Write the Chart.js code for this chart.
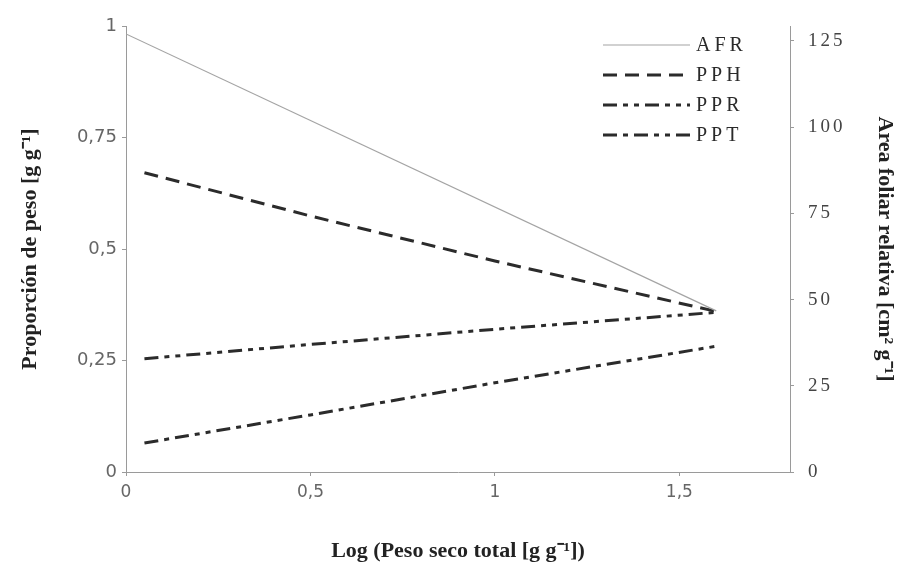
<!DOCTYPE html>
<html>
<head>
<meta charset="utf-8">
<script src="https://cdn.jsdelivr.net/npm/chart.js@4.4.1/dist/chart.umd.min.js"></script>
<style>
  html, body { margin: 0; padding: 0; background: #fff; }
</style>
</head>
<body>
<canvas id="chart" width="906" height="565"></canvas>
<script>
// values
const afrX = [0, 1.6];
const afrValues = [127, 46.7];
const seriesX = [0.05, 0.5, 1.0, 1.6];
const pphValues = [0.671, 0.574, 0.473, 0.36];
const pprValues = [0.254, 0.286, 0.32, 0.358];
const pptValues = [0.065, 0.128, 0.20, 0.282];
const xTicks = [0, 0.5, 1, 1.5];
const leftTicks = [0, 0.25, 0.5, 0.75, 1];
const rightTicks = [0, 25, 50, 75, 100, 125];

const toPoints = (xs, ys) => xs.map((x, i) => ({ x: x, y: ys[i] }));
const comma = v => String(v).replace('.', ',');
const setTicks = list => scale => { scale.ticks = list.map(v => ({ value: v })); };

const axisColor = '#9a9a9a';
const lineColor = '#2b2b2b';
const titleFont = { family: '"Liberation Serif"', size: 22, weight: 'bold' };

// legend drawn in the top right corner of the plot, like the original
const cornerLegend = {
    id: 'cornerLegend',
    afterDraw(chart) {
        const ctx = chart.ctx;
        chart.data.datasets.forEach((ds, i) => {
            const y = 45 + i * 30;
            ctx.save();
            ctx.strokeStyle = ds.borderColor;
            ctx.lineWidth = ds.borderWidth;
            ctx.setLineDash(ds.borderDash || []);
            ctx.beginPath();
            ctx.moveTo(603, y);
            ctx.lineTo(690, y);
            ctx.stroke();
            ctx.setLineDash([]);
            ctx.font = '20px "Liberation Serif"';
            ctx.letterSpacing = '4px';
            ctx.fillStyle = '#2a2a2a';
            ctx.textBaseline = 'middle';
            ctx.fillText(ds.label, 696, y + 1);
            ctx.restore();
        });
    }
};

// spaced-out digits on the right axis
const spacedRightTicks = {
    id: 'spacedRightTicks',
    beforeDraw(chart) {
        const s = chart.scales.y1;
        if (s && !s._spaced) {
            const orig = s.drawLabels;
            s.drawLabels = function (area) {
                this.ctx.save();
                this.ctx.letterSpacing = '3px';
                orig.call(this, area);
                this.ctx.restore();
            };
            s._spaced = true;
        }
    }
};

new Chart(document.getElementById('chart'), {
    type: 'line',
    data: {
        datasets: [
            {
                label: 'AFR',
                data: toPoints(afrX, afrValues),
                yAxisID: 'y1',
                borderColor: '#a4a4a4',
                borderWidth: 1.2,
                pointRadius: 0
            },
            {
                label: 'PPH',
                data: toPoints(seriesX, pphValues),
                yAxisID: 'y',
                borderColor: lineColor,
                borderWidth: 3,
                borderDash: [14, 8],
                pointRadius: 0
            },
            {
                label: 'PPR',
                data: toPoints(seriesX, pprValues),
                yAxisID: 'y',
                borderColor: lineColor,
                borderWidth: 3,
                borderDash: [14, 6, 5, 6, 5, 6],
                pointRadius: 0
            },
            {
                label: 'PPT',
                data: toPoints(seriesX, pptValues),
                yAxisID: 'y',
                borderColor: lineColor,
                borderWidth: 3,
                borderDash: [14, 6, 5, 6, 14, 6, 5, 6, 5, 6],
                pointRadius: 0
            }
        ]
    },
    options: {
        responsive: false,
        animation: false,
        layout: { padding: { top: 26, left: 0, right: 0, bottom: 0 } },
        plugins: {
            legend: { display: false },
            tooltip: { enabled: false }
        },
        scales: {
            x: {
                type: 'linear',
                min: 0,
                max: 1.8,
                afterBuildTicks: setTicks(xTicks),
                afterFit: s => { s.height = 93; },
                grid: { drawOnChartArea: false, color: axisColor, tickLength: 4 },
                border: { color: axisColor },
                ticks: {
                    padding: 6,
                    color: '#666',
                    font: { family: '"DejaVu Sans"', size: 17 },
                    callback: v => comma(v)
                },
                title: {
                    display: true,
                    text: 'Log (Peso seco total [g g⁻¹])',
                    color: '#222',
                    font: titleFont,
                    padding: { top: 5, bottom: 0 }
                }
            },
            y: {
                position: 'left',
                min: 0,
                max: 1,
                afterBuildTicks: setTicks(leftTicks),
                afterFit: s => { s.width = 126; },
                grid: { drawOnChartArea: false, color: axisColor, tickLength: 4 },
                border: { color: axisColor },
                ticks: {
                    padding: 5,
                    color: '#666',
                    font: { family: '"DejaVu Sans"', size: 18 },
                    callback: v => comma(v)
                },
                title: {
                    display: true,
                    text: 'Proporción de peso [g g⁻¹]',
                    color: '#222',
                    font: titleFont,
                    padding: { top: 17, bottom: 0 }
                }
            },
            y1: {
                position: 'right',
                min: 0,
                max: 129.3,
                afterBuildTicks: setTicks(rightTicks),
                afterFit: s => { s.width = 116; },
                grid: { drawOnChartArea: false, color: axisColor, tickLength: 4 },
                border: { color: axisColor },
                ticks: {
                    padding: 14,
                    color: '#444',
                    font: { family: '"Liberation Serif"', size: 19 }
                },
                title: {
                    display: true,
                    text: 'Area foliar relativa [cm² g⁻¹]',
                    color: '#222',
                    font: titleFont,
                    padding: { top: 8, bottom: 0 }
                }
            }
        }
    },
    plugins: [cornerLegend, spacedRightTicks]
});
</script>
</body>
</html>
